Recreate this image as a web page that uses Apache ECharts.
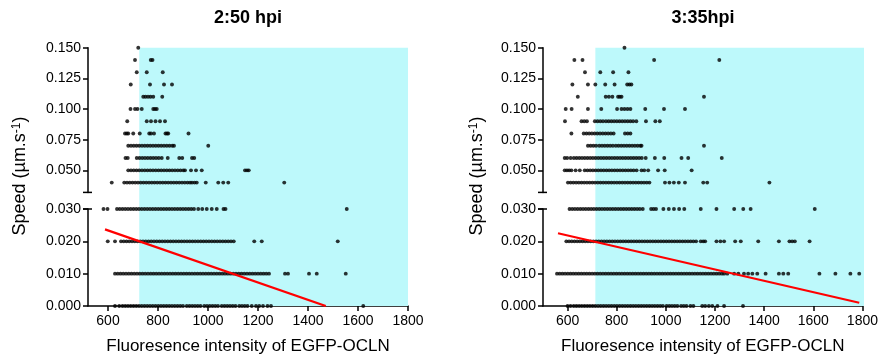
<!DOCTYPE html>
<html>
<head>
<meta charset="utf-8">
<script src="https://cdn.jsdelivr.net/npm/echarts@6/dist/echarts.min.js"></script>
<style>
  html, body { margin: 0; padding: 0; background: #fff; }
  #chart { width: 881px; height: 363px; }
</style>
</head>
<body>
<div id="chart"></div>
<script>
// speed levels (µm.s-1), one x list per level and panel
const speedLevels = [0, 0.01, 0.02, 0.03, 0.04, 0.05, 0.06, 0.07, 0.08, 0.09, 0.1, 0.11, 0.12, 0.13, 0.14, 0.15]
const xTicks = [600, 800, 1000, 1200, 1400, 1600, 1800]
const upperTicks = [0.05, 0.075, 0.1, 0.125, 0.15]
const lowerTicks = [0, 0.01, 0.02, 0.03]
const panelTitles = ['2:50 hpi', '3:35hpi']
const xMin = [520, 500]
const xMax = 1800
const shadeFrom = [725, 712]

// 2:50 hpi
const a000 = [628, 645, 658, 669, 680, 691, 702, 713, 724, 735, 746, 757, 768, 779, 790, 801, 812, 823, 834, 845, 856, 867, 878, 889, 900, 915, 926, 937, 948, 959, 970, 985, 996, 1007, 1018, 1029, 1040, 1055, 1066, 1077, 1088, 1099, 1110, 1125, 1136, 1147, 1158, 1175, 1192, 1205, 1220, 1238, 1252, 1621]
const a010 = [628, 639, 650, 661, 672, 683, 694, 705, 716, 727, 738, 749, 760, 771, 782, 793, 804, 815, 826, 837, 848, 859, 870, 881, 892, 903, 914, 925, 936, 947, 958, 969, 980, 991, 1002, 1013, 1024, 1035, 1046, 1057, 1068, 1079, 1090, 1101, 1112, 1123, 1134, 1145, 1156, 1167, 1178, 1189, 1200, 1211, 1222, 1233, 1244, 1308, 1320, 1404, 1435, 1551]
const a020 = [599, 628, 652, 663, 674, 685, 696, 707, 718, 729, 740, 751, 762, 773, 784, 795, 806, 817, 828, 839, 850, 861, 872, 883, 894, 905, 916, 927, 938, 949, 960, 971, 982, 993, 1004, 1015, 1026, 1037, 1048, 1059, 1070, 1081, 1092, 1103, 1185, 1215, 1519]
const a030 = [582, 598, 636, 647, 658, 669, 680, 691, 702, 713, 724, 735, 746, 757, 768, 779, 790, 801, 812, 823, 834, 845, 856, 867, 878, 889, 900, 911, 922, 933, 944, 961, 977, 995, 1015, 1035, 1062, 1070, 1555]
const a040 = [615, 665, 676, 687, 698, 709, 720, 731, 742, 753, 764, 775, 786, 797, 808, 819, 830, 841, 852, 863, 874, 885, 896, 907, 918, 928, 936, 946, 955, 991, 1041, 1061, 1081, 1305]
const a050 = [681, 692, 703, 714, 725, 736, 747, 758, 769, 780, 791, 802, 813, 824, 835, 846, 857, 868, 879, 890, 901, 908, 932, 952, 975, 1148, 1156, 1163]
const a060 = [670, 679, 715, 726, 737, 748, 759, 770, 781, 792, 803, 815, 839, 885, 897, 936, 945]
const a070 = [681, 692, 703, 714, 725, 736, 747, 758, 769, 780, 791, 802, 813, 824, 835, 846, 857, 864, 1001]
const a080 = [668, 675, 681, 701, 727, 765, 772, 784, 830, 836, 841, 922]
const a090 = [677, 755, 772, 790, 808, 828]
const a100 = [690, 708, 718, 735, 781, 788, 795]
const a110 = [741, 750, 760, 770, 781, 817]
const a120 = [691, 768, 824, 856]
const a130 = [715, 755, 819]
const a140 = [708, 771, 778]
const a150 = [721]

// 3:35hpi
const b000 = [600, 612, 625, 636, 647, 658, 669, 680, 691, 702, 713, 724, 735, 746, 757, 768, 779, 790, 801, 812, 823, 834, 845, 856, 867, 878, 889, 900, 911, 922, 933, 944, 955, 966, 977, 988, 1003, 1014, 1025, 1036, 1047, 1062, 1073, 1084, 1100, 1112, 1148, 1160, 1175, 1189, 1210, 1237, 1314]
const b010 = [557, 568, 579, 590, 601, 612, 623, 634, 645, 656, 667, 678, 689, 700, 711, 722, 733, 744, 755, 766, 777, 788, 799, 810, 821, 832, 843, 854, 865, 876, 887, 898, 909, 920, 931, 942, 953, 964, 975, 986, 997, 1008, 1019, 1030, 1041, 1052, 1063, 1074, 1085, 1096, 1107, 1118, 1129, 1140, 1151, 1162, 1173, 1184, 1195, 1206, 1217, 1228, 1237, 1250, 1278, 1295, 1318, 1335, 1352, 1372, 1406, 1460, 1478, 1498, 1625, 1690, 1751, 1787]
const b020 = [595, 606, 617, 628, 639, 650, 661, 672, 683, 694, 705, 716, 727, 738, 749, 760, 771, 782, 793, 804, 815, 826, 837, 848, 859, 870, 881, 892, 903, 914, 925, 936, 947, 958, 969, 980, 991, 1002, 1013, 1024, 1035, 1046, 1057, 1068, 1079, 1090, 1101, 1112, 1123, 1142, 1152, 1160, 1206, 1222, 1237, 1282, 1305, 1376, 1460, 1503, 1514, 1525, 1585]
const b030 = [608, 619, 630, 641, 652, 663, 674, 685, 696, 707, 718, 729, 740, 751, 762, 773, 784, 795, 806, 817, 828, 839, 850, 861, 872, 883, 894, 906, 940, 950, 960, 990, 1012, 1033, 1054, 1075, 1142, 1206, 1278, 1315, 1345, 1606]
const b040 = [601, 612, 623, 634, 645, 656, 667, 678, 689, 700, 711, 722, 733, 744, 755, 766, 777, 788, 799, 810, 821, 832, 843, 854, 865, 876, 887, 898, 909, 920, 931, 994, 1012, 1030, 1050, 1075, 1149, 1165, 1417]
const b050 = [588, 597, 606, 615, 632, 649, 669, 680, 691, 702, 713, 724, 735, 746, 757, 768, 779, 790, 801, 812, 823, 834, 845, 856, 867, 879, 899, 910, 926, 966, 993, 1102]
const b060 = [588, 598, 612, 625, 636, 647, 658, 669, 680, 691, 702, 713, 724, 735, 746, 757, 768, 779, 790, 801, 812, 823, 834, 845, 856, 867, 878, 889, 900, 916, 953, 991, 1061, 1088, 1224]
const b070 = [682, 693, 704, 715, 728, 739, 750, 761, 772, 783, 795, 806, 817, 828, 839, 850, 861, 872, 883, 894, 899, 1152]
const b080 = [615, 665, 676, 687, 698, 709, 720, 731, 742, 753, 764, 775, 786, 832, 843, 854]
const b090 = [589, 656, 667, 678, 710, 721, 732, 743, 755, 766, 777, 788, 799, 810, 821, 832, 843, 854, 865, 878, 917, 955, 973]
const b100 = [592, 616, 682, 736, 800, 818, 830, 842, 854, 914, 990, 1075]
const b110 = [641, 754, 767, 781, 804, 811, 818, 1152]
const b120 = [619, 682, 712, 752, 790, 841, 850, 858]
const b130 = [670, 732, 784, 846]
const b140 = [627, 660, 950, 1214]
const b150 = [830]

// linear fit lines, end points
const fitA = [[588, 0.0237], [1471, 0]]
const fitB = [[561, 0.0225], [1787, 0.001]]

const rowsA = [a000, a010, a020, a030, a040, a050, a060, a070, a080, a090, a100, a110, a120, a130, a140, a150]
const rowsB = [b000, b010, b020, b030, b040, b050, b060, b070, b080, b090, b100, b110, b120, b130, b140, b150]

const FONT = '"Liberation Sans", Arial, sans-serif'
const CYAN = '#bdf9fb'

function pointsOf(rows, lo, hi) {
  const out = []
  rows.forEach((xs, i) => {
    const s = speedLevels[i]
    if (s >= lo && s <= hi) xs.forEach(x => out.push([x, s]))
  })
  return out
}

const layout = [
  { left: 88, right: 473 },
  { left: 543, right: 17 }
]
const upperTop = 47.7, upperHeight = 144.7
const lowerTop = 209, lowerBottom = 57

const grid = [], xAxis = [], yAxis = [], series = []
const axisLine = { show: true, lineStyle: { color: '#000', width: 1.5 } }
const axisTick = { show: true, length: 5, lineStyle: { color: '#000', width: 1.5 } }
const labelStyle = { color: '#000', fontSize: 14, fontFamily: FONT }

;[rowsA, rowsB].forEach((rows, p) => {
  const L = layout[p]
  const g = p * 3
  // background grid (cyan band across the axis break)
  grid.push({ left: L.left, right: L.right, top: upperTop, bottom: lowerBottom })
  // upper part of broken axis
  grid.push({ left: L.left, right: L.right, top: upperTop, height: upperHeight })
  // lower part
  grid.push({ left: L.left, right: L.right, top: lowerTop, bottom: lowerBottom })

  xAxis.push({ gridIndex: g, type: 'value', min: xMin[p], max: xMax, show: false })
  xAxis.push({ gridIndex: g + 1, type: 'value', min: xMin[p], max: xMax, show: false })
  xAxis.push({
    gridIndex: g + 2, type: 'value', min: xMin[p], max: xMax,
    axisLine: axisLine,
    axisTick: { ...axisTick, customValues: xTicks },
    axisLabel: { ...labelStyle, margin: 8, customValues: xTicks, formatter: v => String(v) },
    splitLine: { show: false },
    name: 'Fluoresence intensity of EGFP-OCLN',
    nameLocation: 'middle',
    nameGap: 32,
    nameTextStyle: { color: '#000', fontSize: 17, fontFamily: FONT }
  })

  yAxis.push({ gridIndex: g, type: 'value', min: 0, max: 1, show: false })
  yAxis.push({
    gridIndex: g + 1, type: 'value', min: 0.032, max: 0.15,
    axisLine: axisLine,
    axisTick: { ...axisTick, customValues: upperTicks },
    axisLabel: { ...labelStyle, margin: 7, customValues: upperTicks, formatter: v => v.toFixed(3) },
    splitLine: { show: false }
  })
  yAxis.push({
    gridIndex: g + 2, type: 'value', min: 0, max: 0.03,
    axisLine: axisLine,
    axisTick: { ...axisTick, customValues: lowerTicks },
    axisLabel: { ...labelStyle, margin: 7, customValues: lowerTicks, formatter: v => v.toFixed(3) },
    splitLine: { show: false }
  })

  series.push({
    type: 'scatter', xAxisIndex: g, yAxisIndex: g, data: [], z: 0, silent: true,
    markArea: {
      silent: true,
      itemStyle: { color: CYAN },
      data: [[{ coord: [shadeFrom[p], 0] }, { coord: [xMax, 1] }]]
    }
  })
  const dot = { type: 'scatter', symbol: 'circle', symbolSize: 3.9, clip: false, itemStyle: { color: '#000' }, z: 3 }
  series.push({ ...dot, xAxisIndex: g + 1, yAxisIndex: g + 1, data: pointsOf(rows, 0.035, 0.2) })
  series.push({ ...dot, xAxisIndex: g + 2, yAxisIndex: g + 2, data: pointsOf(rows, 0, 0.035) })
  series.push({
    type: 'line', xAxisIndex: g + 2, yAxisIndex: g + 2, data: p === 0 ? fitA : fitB,
    symbol: 'none', lineStyle: { color: '#ff0000', width: 2.2 }, z: 5, silent: true
  })
})

const chart = echarts.init(document.getElementById('chart'), null, { renderer: 'canvas' })
chart.setOption({
  animation: false,
  grid, xAxis, yAxis, series
})

// titles, y-axis names and the little caps of the axis break
const graphics = []
const titleX = [248, 703]
const yNameX = [20, 477]
panelTitles.forEach((t, p) => {
  graphics.push({
    type: 'text', x: titleX[p], y: 18,
    style: { text: t, fill: '#000', font: 'bold 18px ' + FONT, textAlign: 'center', textVerticalAlign: 'middle', align: 'center', verticalAlign: 'middle' }
  })
  graphics.push({
    type: 'text', x: yNameX[p], y: 176, rotation: Math.PI / 2,
    style: {
      text: '{a|Speed (µm.s}{b|-1}{a|)}',
      textAlign: 'center', textVerticalAlign: 'middle', align: 'center', verticalAlign: 'middle',
      rich: {
        a: { fontSize: 18, fontFamily: FONT, fill: '#000', color: '#000' },
        b: { fontSize: 12, fontFamily: FONT, fill: '#000', color: '#000', verticalAlign: 'top' }
      }
    }
  })
  const g = p * 3
  const up = chart.convertToPixel({ xAxisIndex: g + 1, yAxisIndex: g + 1 }, [xMin[p], 0.032])
  const lo = chart.convertToPixel({ xAxisIndex: g + 2, yAxisIndex: g + 2 }, [xMin[p], 0.03])
  ;[up, lo].forEach(pt => {
    graphics.push({
      type: 'line', shape: { x1: pt[0] - 5, y1: pt[1], x2: pt[0] + 4, y2: pt[1] },
      style: { stroke: '#000', lineWidth: 1.5 }
    })
  })
})
chart.setOption({ graphic: graphics })
</script>
</body>
</html>
